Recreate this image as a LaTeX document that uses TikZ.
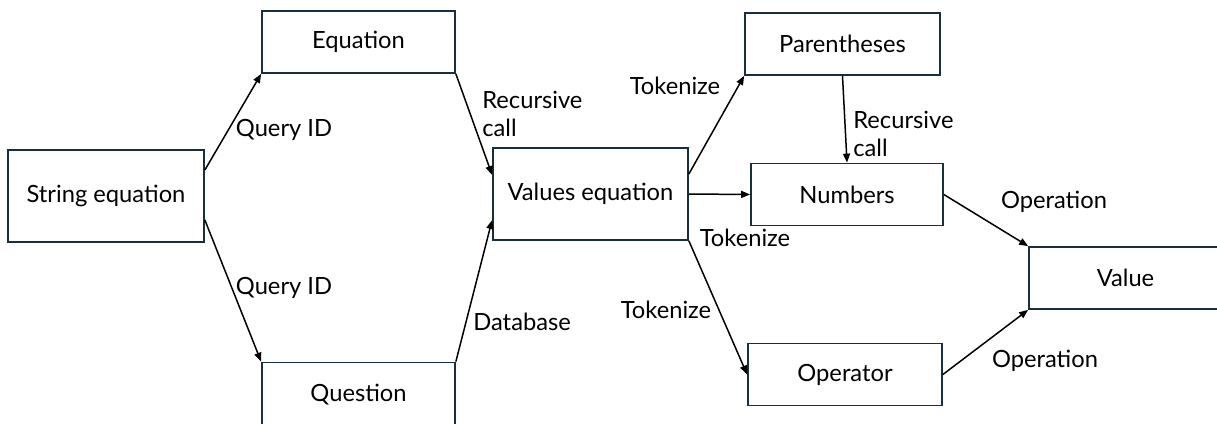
\documentclass[tikz,border=0pt]{standalone}
\usepackage{fontspec}
\setmainfont{Lato}
\usepackage{xcolor}
\usetikzlibrary{arrows.meta,positioning,calc}

\definecolor{boxline}{HTML}{17303F}

\begin{document}
\begin{tikzpicture}[
  x=0.02cm, y=-0.02cm,
  box/.style={rectangle, draw=boxline, line width=1pt, font=\fontsize{13.5}{16}\selectfont,
              minimum width=3.86cm, minimum height=1.24cm, text centered, inner sep=2pt},
  bigbox/.style={box, minimum height=1.84cm},
  arr/.style={-{Triangle[length=1.8mm,width=1.4mm]}, line width=0.85pt},
  lbl/.style={font=\fontsize{13.5}{16}\selectfont, inner sep=0pt, align=left}
]
\useasboundingbox (0,0) rectangle (1217,423);

\node[bigbox, minimum width=3.92cm] (str)  at (106,196)   {String equation};
\node[box]                          (eqn)  at (358.5,42)  {Equation};
\node[box, minimum height=1.3cm]    (qst)  at (358.5,395) {Question};
\node[bigbox, minimum width=3.9cm]  (vals) at (590.5,194) {Values equation};
\node[box, minimum width=3.9cm]     (par)  at (842.5,44)  {Parentheses};
\node[box, minimum width=3.84cm]    (num)  at (847,194.5) {Numbers};
\node[box, minimum width=3.88cm]    (opr)  at (845,374.5) {Operator};
\node[box]                          (val)  at (1125.5,278){Value};

% edge labels
\node[lbl] (q1)  at (284,130) {Query ID};
\node[lbl] (q2)  at (284,288) {Query ID};
\node[lbl, anchor=west] (rc1) at (482,114) {Recursive\\call};
\node[lbl, anchor=west] (db)  at (473,322) {Database};
\node[lbl] (tk1) at (675,86)  {Tokenize};
\node[lbl] (tk2) at (745,238) {Tokenize};
\node[lbl] (tk3) at (666,310) {Tokenize};
\node[lbl, anchor=west] (rc2) at (853,134) {Recursive\\call};
\node[lbl] (op1) at (1054,202) {Operation};
\node[lbl] (op2) at (1045,361) {Operation};

\draw[arr] ([yshift=0.52cm]str.east)  -- (eqn.south west);
\draw[arr] ([yshift=-0.48cm]str.east) -- (qst.north west);
\draw[arr] (eqn.south east) -- ([yshift=0.38cm]vals.west);
\draw[arr] (qst.north east) -- ([yshift=-0.52cm]vals.west);
\draw[arr] ([yshift=0.4cm]vals.east) -- (par.south west);
\draw[arr] (vals.east) -- (num.west);
\draw[arr] (vals.south east) -- (opr.west);
\draw[arr] (par.south) -- (num.north);
\draw[arr] (num.east) -- (val.north west);
\draw[arr] (opr.east) -- (val.south west);
\end{tikzpicture}
\end{document}
